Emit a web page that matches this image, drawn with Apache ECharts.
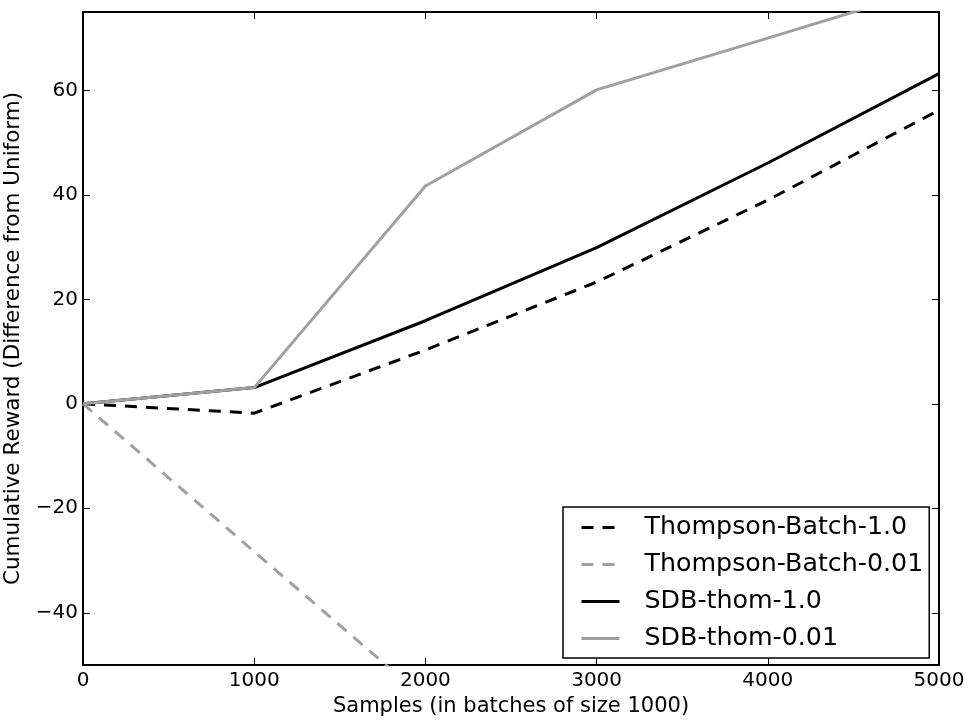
<!DOCTYPE html>
<html>
<head>
<meta charset="utf-8">
<script src="https://cdn.jsdelivr.net/npm/echarts@6/dist/echarts.min.js"></script>
<style>
html,body{margin:0;padding:0;background:#fff;}
#c{width:971px;height:721px;}
</style>
</head>
<body>
<div id="c"></div>
<script>
var samples = [0, 1000, 2000, 3000, 4000, 5000];
var thompsonBatch10 = [0, -1.8, 10.3, 23.3, 39.0, 56.2];
var thompsonBatch001 = [0, -28.3, -56.5, -84.5, -112.5, -140.5];
var sdbThom10 = [0, 3.1, 15.9, 29.9, 46.1, 63.2];
var sdbThom001 = [0, 3.1, 41.7, 60.1, 70.0, 80.0];
var xTicks = [0, 1000, 2000, 3000, 4000, 5000];
var yTicks = [-40, -20, 0, 20, 40, 60];
var seriesNames = ['Thompson-Batch-1.0', 'Thompson-Batch-0.01', 'SDB-thom-1.0', 'SDB-thom-0.01'];

function pairs(ys) { return samples.map(function (x, i) { return [x, ys[i]]; }); }

var FONT = 'DejaVu Sans';
var BLACK = '#000000';
var GRAY = '#a0a0a0';

var chart = echarts.init(document.getElementById('c'), null, {renderer: 'canvas'});

function mkSeries(name, ys, color, dashed) {
  return {
    name: name,
    type: 'line',
    data: pairs(ys),
    showSymbol: false,
    symbol: 'none',
    clip: true,
    animation: false,
    lineStyle: {color: color, width: 3, type: dashed ? [12, 9] : 'solid'},
    itemStyle: {color: color},
    z: 2
  };
}

var option = {
  backgroundColor: '#ffffff',
  animation: false,
  textStyle: {fontFamily: FONT},
  grid: {left: 83, right: 32, top: 12, bottom: 56, outerBoundsMode: 'none', containLabel: false},
  legend: {
    orient: 'vertical',
    left: 563,
    top: 507,
    padding: [8, 6, 7, 17],
    itemGap: 12,
    itemWidth: 38,
    itemHeight: 20,
    backgroundColor: '#ffffff',
    borderColor: '#000000',
    borderWidth: 1.5,
    borderRadius: 0,
    data: seriesNames,
    itemStyle: {opacity: 0},
    lineStyle: {width: 3},
    textStyle: {fontFamily: FONT, fontSize: 25.3, color: '#000', padding: [0, 0, 0, 20], lineHeight: 24},
    z: 10
  },
  xAxis: [{
    type: 'value',
    min: 0, max: 5000, interval: 1000,
    position: 'bottom',
    name: 'Samples (in batches of size 1000)',
    nameLocation: 'middle',
    nameGap: 29,
    nameTextStyle: {fontFamily: FONT, fontSize: 21, color: '#000'},
    axisLine: {show: true, onZero: false, lineStyle: {color: BLACK, width: 2}},
    axisTick: {show: true, inside: true, length: 7, lineStyle: {color: BLACK, width: 1}, customValues: xTicks},
    axisLabel: {show: true, margin: 6, fontFamily: FONT, fontSize: 20, color: '#000', customValues: xTicks,
      formatter: function (v) { return String(v); }},
    splitLine: {show: false}
  }, {
    type: 'value',
    min: 0, max: 5000, interval: 1000,
    position: 'top',
    axisLine: {show: true, onZero: false, lineStyle: {color: BLACK, width: 2}},
    axisTick: {show: true, inside: true, length: 7, lineStyle: {color: BLACK, width: 1}, customValues: xTicks},
    axisLabel: {show: false},
    splitLine: {show: false}
  }],
  yAxis: [{
    type: 'value',
    min: -50, max: 75,
    position: 'left',
    name: 'Cumulative Reward (Difference from Uniform)',
    nameLocation: 'middle',
    nameGap: 56,
    nameRotate: 90,
    nameTextStyle: {fontFamily: FONT, fontSize: 21.5, color: '#000'},
    axisLine: {show: true, onZero: false, lineStyle: {color: BLACK, width: 2}},
    axisTick: {show: true, inside: true, length: 7, lineStyle: {color: BLACK, width: 1}, customValues: yTicks},
    axisLabel: {
      show: true, margin: 5, fontFamily: FONT, fontSize: 20, color: '#000', customValues: yTicks,
      formatter: function (v) { return v < 0 ? '\u2212' + Math.abs(v) : String(v); }
    },
    splitLine: {show: false}
  }, {
    type: 'value',
    min: -50, max: 75,
    position: 'right',
    axisLine: {show: true, onZero: false, lineStyle: {color: BLACK, width: 2}},
    axisTick: {show: true, inside: true, length: 7, lineStyle: {color: BLACK, width: 1}, customValues: yTicks},
    axisLabel: {show: false},
    splitLine: {show: false}
  }],
  series: [
    mkSeries(seriesNames[0], thompsonBatch10, BLACK, true),
    mkSeries(seriesNames[1], thompsonBatch001, GRAY, true),
    mkSeries(seriesNames[2], sdbThom10, BLACK, false),
    mkSeries(seriesNames[3], sdbThom001, GRAY, false)
  ]
};
chart.setOption(option);
</script>
</body>
</html>
